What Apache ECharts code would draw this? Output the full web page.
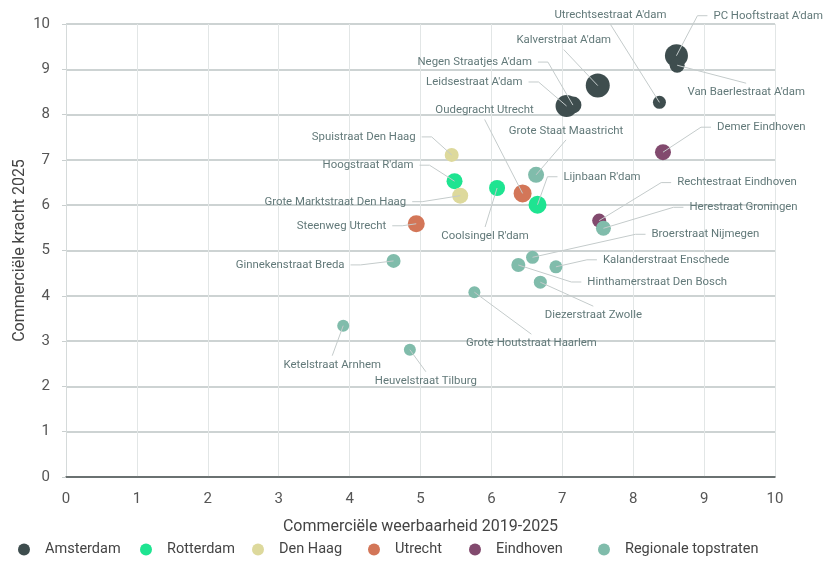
<!DOCTYPE html>
<html>
<head>
<meta charset="utf-8">
<script src="https://cdn.jsdelivr.net/npm/echarts@6/dist/echarts.min.js"></script>
<style>
  html, body { margin: 0; padding: 0; background: #fff; }
  #chart { width: 837px; height: 562px; }
</style>
</head>
<body>
<div id="chart"></div>
<script>
// regio's (legend order)
const regios = ['Amsterdam', 'Rotterdam', 'Den Haag', 'Utrecht', 'Eindhoven', 'Regionale topstraten']
const regioColors = ['#3e4d4e', '#1ee491', '#ddd99c', '#d37658', '#824a6e', '#80bcab']

// winkelstraten
const straten = [
  "PC Hooftstraat A'dam", "Van Baerlestraat A'dam", "Kalverstraat A'dam", "Utrechtsestraat A'dam",
  "Leidsestraat A'dam", "Negen Straatjes A'dam",
  "Hoogstraat R'dam", "Coolsingel R'dam", "Lijnbaan R'dam",
  'Spuistraat Den Haag', 'Grote Marktstraat Den Haag',
  'Oudegracht Utrecht', 'Steenweg Utrecht',
  'Demer Eindhoven', 'Rechtestraat Eindhoven',
  'Grote Staat Maastricht', 'Herestraat Groningen', 'Broerstraat Nijmegen', 'Kalanderstraat Enschede',
  'Hinthamerstraat Den Bosch', 'Diezerstraat Zwolle', 'Grote Houtstraat Haarlem', 'Ginnekenstraat Breda',
  'Ketelstraat Arnhem', 'Heuvelstraat Tilburg'
]
const regioIndex = [0, 0, 0, 0, 0, 0, 1, 1, 1, 2, 2, 3, 3, 4, 4, 5, 5, 5, 5, 5, 5, 5, 5, 5, 5]
// Commerciële weerbaarheid 2019-2025 (x)
const weerbaarheid = [8.61, 8.62, 7.50, 8.37, 7.06, 7.15, 5.48, 6.08, 6.65, 5.44, 5.56, 6.44, 4.94,
  8.42, 7.52, 6.63, 7.58, 6.58, 6.91, 6.38, 6.69, 5.76, 4.62, 3.91, 4.85]
// Commerciële kracht 2025 (y)
const kracht = [9.30, 9.09, 8.64, 8.27, 8.19, 8.21, 6.53, 6.38, 6.01, 7.11, 6.21, 6.26, 5.59,
  7.17, 5.66, 6.67, 5.49, 4.85, 4.64, 4.68, 4.30, 4.08, 4.77, 3.34, 2.81]
// omvang (bubble)
const omvang = [23, 15, 24, 13, 22, 17, 16, 16, 18, 14, 16, 18, 17,
  16, 14, 16, 15, 13, 13, 14, 13, 12, 14, 12, 12]

const xTicks = { min: 0, max: 10, interval: 1 }
const yTicks = { min: 0, max: 10, interval: 1 }

// label placement: side where the leader line enters the label, and offset (px) from the bubble
// L = line enters left edge, R = right edge, B = bottom centre, T = top centre
const labelSide = ['L', 'T', 'B', 'B', 'R', 'R', 'R', 'T', 'L', 'R', 'R', 'B', 'R',
  'L', 'L', 'B', 'L', 'L', 'L', 'L', 'T', 'T', 'R', 'T', 'T']
const labelOffset = [
  [37, -40], [69, 27], [-34, -45], [-49, -87], [-44, -24], [-41, -43],
  [-41, -16], [-12, 48], [26, -28],
  [-36, -18], [-54, 6],
  [-38, -83], [-30, 2],
  [54, -25], [78, -38],
  [30, -44], [86, -21], [119, -23], [47, -7],
  [69, 17], [53, 33], [57, 51], [-49, 4],
  [-11, 39], [16, 31]
]

const font = 'Roboto, "Noto Sans", sans-serif'
const labelColor = '#627979'
const leaderColor = '#c4cbcb'

const seriesLookup = regios.map(() => [])
straten.forEach(function(s, i) { seriesLookup[regioIndex[i]].push(i) })

const chart = echarts.init(document.getElementById('chart'))

const series = regios.map(function(regio, r) {
  return {
    name: regio,
    type: 'scatter',
    z: 2,
    data: seriesLookup[r].map(function(i) {
      return { name: straten[i], value: [weerbaarheid[i], kracht[i], omvang[i]] }
    }),
    symbolSize: function(val) { return val[2] },
    itemStyle: { color: regioColors[r], opacity: 1 },
    label: {
      show: true,
      position: 'inside',
      formatter: '{b}',
      color: labelColor,
      fontSize: 11.4,
      fontFamily: font
    },
    labelLayout: function(params) {
      const i = seriesLookup[params.seriesIndex][params.dataIndex]
      const rect = params.rect
      const side = labelSide[i]
      return {
        x: rect.x + rect.width / 2 + labelOffset[i][0],
        y: rect.y + rect.height / 2 + labelOffset[i][1],
        align: side === 'L' ? 'left' : (side === 'R' ? 'right' : 'center'),
        verticalAlign: 'middle'
      }
    }
  }
})

// leader lines from label to bubble centre
series.push({
  type: 'custom',
  name: 'leaders',
  z: 3,
  silent: true,
  data: straten.map(function(s, i) { return [weerbaarheid[i], kracht[i], i] }),
  renderItem: function(params, api) {
    const p = api.coord([api.value(0), api.value(1)])
    const i = api.value(2)
    const tx = p[0] + labelOffset[i][0]
    const ty = p[1] + labelOffset[i][1]
    let pts
    if (labelSide[i] === 'L') {
      pts = [[tx - 6, ty], [tx - 16, ty], p]
    } else if (labelSide[i] === 'R') {
      pts = [[tx + 6, ty], [tx + 16, ty], p]
    } else if (labelSide[i] === 'B') {
      pts = [[tx, ty + 9], p]
    } else {
      pts = [[tx, ty - 9], p]
    }
    return {
      type: 'polyline',
      shape: { points: pts },
      style: { stroke: leaderColor, lineWidth: 1, fill: null }
    }
  }
})

// one legend per item, spaced like the original
const legendLeft = [13, 135, 247, 363, 464, 593]

chart.setOption({
  animation: false,
  textStyle: { fontFamily: font },
  grid: { left: 66, right: 62, top: 24, bottom: 85, containLabel: false, outerBoundsMode: 'none' },
  legend: regios.map(function(regio, r) {
    return {
      data: [regio],
      left: legendLeft[r],
      bottom: 0,
      icon: 'circle',
      itemWidth: 32,
      itemHeight: 12,
      textStyle: { color: '#444', fontSize: 14.5, fontFamily: font }
    }
  }),
  xAxis: {
    type: 'value',
    min: xTicks.min,
    max: xTicks.max,
    interval: xTicks.interval,
    name: 'Commerciële weerbaarheid 2019-2025',
    nameLocation: 'middle',
    nameGap: 42,
    nameMoveOverlap: false,
    nameTextStyle: { color: '#444', fontSize: 16 },
    axisLine: { lineStyle: { color: '#4a5252', width: 1.5 } },
    axisTick: { show: false },
    axisLabel: { color: '#555', fontSize: 15, margin: 15 },
    splitLine: { show: true, lineStyle: { color: '#e2e6e6', width: 1 } }
  },
  yAxis: {
    type: 'value',
    min: yTicks.min,
    max: yTicks.max,
    interval: yTicks.interval,
    name: 'Commerciële kracht 2025',
    nameLocation: 'middle',
    nameGap: 38,
    nameMoveOverlap: false,
    nameTextStyle: { color: '#444', fontSize: 16 },
    axisLine: { show: true, lineStyle: { color: '#d5dada', width: 1 } },
    axisTick: { show: true, length: 4, lineStyle: { color: '#c9cfcf' } },
    axisLabel: { color: '#555', fontSize: 15, margin: 16 },
    splitLine: { show: true, lineStyle: { color: '#cdd3d3', width: 2 } }
  },
  series: series
})
</script>
</body>
</html>
